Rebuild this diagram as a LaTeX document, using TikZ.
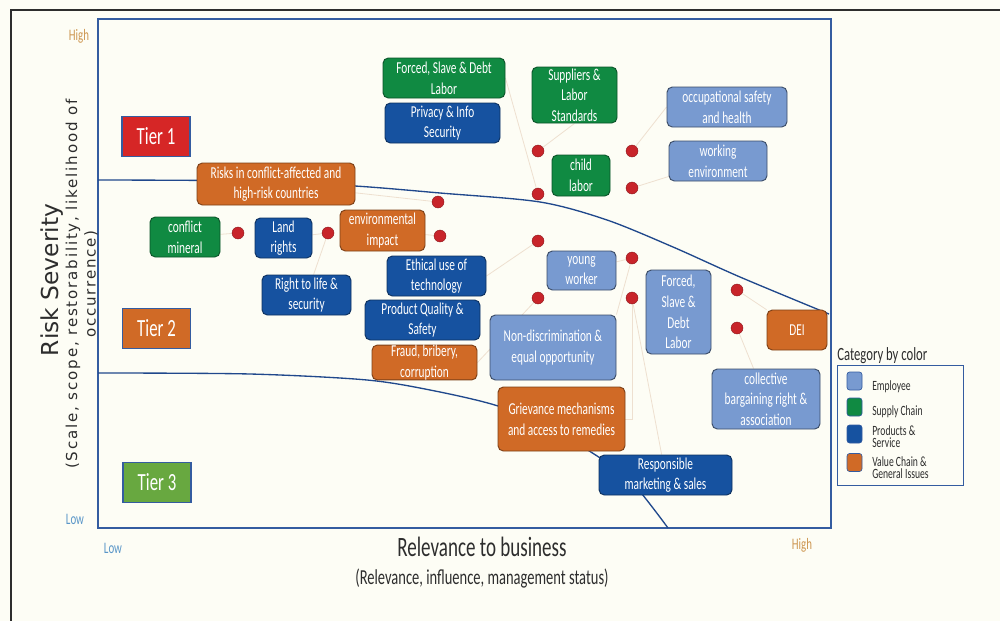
\documentclass[tikz,border=0pt]{standalone}
\usepackage{fontspec}
\setmainfont{Carlito}[FakeStretch=0.68]
\newfontfamily\sevfont{DejaVu Sans}
\newfontfamily\sevwide{DejaVu Sans}[LetterSpace=12]
\usepackage{xcolor}

\definecolor{empblue}{RGB}{120,154,208}
\definecolor{supgreen}{RGB}{16,138,66}
\definecolor{prodblue}{RGB}{22,82,160}
\definecolor{valorange}{RGB}{208,106,38}
\definecolor{tierred}{RGB}{214,38,38}
\definecolor{tiergreen}{RGB}{104,168,64}
\definecolor{dotred}{RGB}{200,36,42}
\definecolor{curveblue}{RGB}{32,72,140}
\definecolor{framecol}{RGB}{52,92,160}
\definecolor{leadcol}{RGB}{238,224,208}
\definecolor{papercol}{RGB}{253,253,245}
\definecolor{hicol}{RGB}{205,150,80}
\definecolor{locol}{RGB}{90,150,200}
\definecolor{inkcol}{RGB}{45,45,45}

\pgfdeclarelayer{paper}
\pgfdeclarelayer{back}
\pgfsetlayers{paper,back,main}

\tikzset{
  issue/.style={rounded corners=4pt, inner sep=1pt, align=center, text=white,
    font=\fontsize{12.5}{15.5}\selectfont, line width=0.7pt},
  emp/.style={issue, fill=empblue, draw=empblue!50!black},
  sup/.style={issue, fill=supgreen, draw=supgreen!60!black},
  prod/.style={issue, fill=prodblue, draw=prodblue!60!black},
  val/.style={issue, fill=valorange, draw=valorange!60!black},
  boxsz/.style 2 args={minimum width=#1*0.75pt, minimum height=#2*0.75pt},
  tier/.style={draw=framecol, line width=0.8pt, text=white, inner sep=0pt,
    font=\fontsize{18.5}{20}\selectfont, boxsz={68}{40}},
  spot/.style={circle, fill=dotred, draw=dotred!70!black, line width=0.3pt,
    inner sep=0pt, minimum size=12*0.75pt},
  leader/.style={leadcol, line width=0.6pt},
  swatch/.style={rounded corners=2pt, draw=framecol, line width=0.5pt,
    inner sep=0pt, boxsz={15}{18}},
  legtext/.style={anchor=west, align=left, text=inkcol, inner sep=0pt,
    font=\fontsize{10.6}{9.2}\selectfont}
}

\begin{document}
\begin{tikzpicture}[x=0.75pt, y=-0.75pt]
    \useasboundingbox (0,0) rectangle (1000,621);
    \begin{pgfonlayer}{paper}
      \fill[papercol] (0,0) rectangle (1000,621);
    \end{pgfonlayer}
    \draw[inkcol, line width=1.2pt] (11,621) -- (11,10) -- (1000,10);

    \draw[framecol, line width=0.9pt] (98,19) rectangle (831,528);
    \draw[curveblue, line width=1pt] plot[smooth, tension=0.5] coordinates
      {(98,180) (250,181) (355,186) (440,193) (540,202) (607,220) (673,247) (740,277) (829,314)};
    \draw[curveblue, line width=1pt] plot[smooth, tension=0.5] coordinates
      {(98,373) (250,374) (367,380) (435,391) (498,406) (550,428) (594,454) (630,480) (668,528)};

    \node[text=hicol, font=\fontsize{12}{14}\selectfont] (yhigh) at (79,36) {High};
    \node[text=locol, font=\fontsize{12}{14}\selectfont] (ylow) at (75,519) {Low};
    \node[text=locol, font=\fontsize{12}{14}\selectfont] (xlow) at (113,548) {Low};
    \node[text=hicol, font=\fontsize{12}{14}\selectfont] (xhigh) at (802,545) {High};

    \node[rotate=90, text=inkcol, font=\sevfont\fontsize{17.5}{20}\selectfont] (sevtitle) at (52,280) {Risk Severity};
    \node[rotate=90, text=inkcol, font=\sevwide\fontsize{11.3}{13}\selectfont] (sevsub) at (73,284) {(Scale, scope, restorability, likelihood of};
    \node[rotate=90, text=inkcol, font=\sevwide\fontsize{11.3}{13}\selectfont] (sevsubb) at (91,284) {occurrence)};
    \node[text=inkcol, font=\fontsize{21}{24}\selectfont] (reltitle) at (482,547) {Relevance to business};
    \node[text=inkcol, font=\fontsize{16}{18}\selectfont] (relsub) at (482,579) {(Relevance, influence, management status)};

    \node[tier, fill=tierred] (tier1) at (156,136.5) {Tier 1};
    \node[tier, fill=valorange] (tier2) at (156.5,328.5) {Tier 2};
    \node[tier, fill=tiergreen] (tier3) at (157,482.5) {Tier 3};

    \node[sup, boxsz={122}{40}] (forcedg) at (444,78) {Forced, Slave \& Debt\\Labor};
    \node[prod, boxsz={115}{40}] (privacy) at (442.5,123) {Privacy \& Info\\Security};
    \node[sup, boxsz={85}{56}, inner sep=0pt] (suppliers) at (574.5,95) {Suppliers \&\\Labor\\Standards};
    \node[emp, boxsz={120}{40}] (occup) at (727,107) {occupational safety\\and health};
    \node[emp, boxsz={98}{40}] (workenv) at (718,161) {working\\environment};
    \node[sup, boxsz={58}{41}] (child) at (581,175.5) {child\\labor};
    \node[val, boxsz={158}{42}] (risks) at (276,184) {Risks in conflict-affected and\\high-risk countries};
    \node[sup, boxsz={70}{40}] (mineral) at (185,237) {conflict\\mineral};
    \node[prod, boxsz={57}{40}] (land) at (283.5,238) {Land\\rights};
    \node[val, boxsz={85}{41}] (envimp) at (382.5,230.5) {environmental\\impact};
    \node[prod, boxsz={99}{40}] (ethical) at (436.5,276) {Ethical use of\\technology};
    \node[prod, boxsz={89}{40}] (rightlife) at (306.5,295) {Right to life \&\\security};
    \node[prod, boxsz={115}{40}] (quality) at (422.5,320) {Product Quality \&\\Safety};
    \node[val, boxsz={105}{33}, inner sep=0pt] (fraud) at (424.5,362.5) {Fraud, bribery,\\corruption};
    \node[emp, boxsz={69}{39}] (young) at (581.5,270.5) {young\\worker};
    \node[emp, boxsz={65}{84}] (forcedb) at (678.5,312) {Forced,\\Slave \&\\Debt\\Labor};
    \node[val, boxsz={60}{40}] (dei) at (797,330) {DEI};
    \node[emp, boxsz={126}{65}] (nondisc) at (553,347.5) {Non-discrimination \&\\equal opportunity};
    \node[val, boxsz={127}{64}] (grievance) at (561.5,419) {Grievance mechanisms\\and access to remedies};
    \node[emp, boxsz={108}{60}, inner sep=0pt] (collective) at (766,399) {collective\\bargaining right \&\\association};
    \node[prod, boxsz={133}{40}] (market) at (665.5,475) {Responsible\\marketing \& sales};

    \node[spot] (d1) at (238,233) {};
    \node[spot] (d2) at (328,233) {};
    \node[spot] (d3) at (438,202) {};
    \node[spot] (d4) at (440,236) {};
    \node[spot] (d5) at (538,151) {};
    \node[spot] (d6) at (538,194) {};
    \node[spot] (d7) at (632,151) {};
    \node[spot] (d8) at (632,188) {};
    \node[spot] (d9) at (538,241) {};
    \node[spot] (d10) at (538,298) {};
    \node[spot] (d11) at (632,258) {};
    \node[spot] (d12) at (632,298) {};
    \node[spot] (d13) at (737,290) {};
    \node[spot] (d14) at (737,328) {};

    \begin{pgfonlayer}{back}
      \draw[leader] (d1) -- (mineral);
      \draw[leader] (d2) -- (land);
      \draw[leader] (d2) -- (rightlife);
      \draw[leader] (d3) -- (risks);
      \draw[leader] (d4) -- (envimp);
      \draw[leader] (d5) -- (suppliers.south);
      \draw[leader] (d6) -- (forcedg.east);
      \draw[leader] (d7) -- (occup.west);
      \draw[leader] (d8) -- (workenv);
      \draw[leader] (d9) -- (ethical.east);
      \draw[leader] (d10) -- (fraud.east);
      \draw[leader] (d11) -- (young);
      \draw[leader] (d11) -- (nondisc.north east);
      \draw[leader] (d12) |- (grievance.east);
      \draw[leader] (d12) -- (market);
      \draw[leader] (d13) -- (dei);
      \draw[leader] (d14) -- (collective);
    \end{pgfonlayer}

    \node[anchor=west, inner sep=0pt, text=inkcol, font=\fontsize{14}{16}\selectfont] (legtitle) at (837,356) {Category by color};
    \draw[framecol, line width=0.6pt] (837,365) rectangle (963,485);
    \node[swatch, fill=empblue] (swemp) at (854.5,381) {};
    \node[swatch, fill=supgreen] (swsup) at (854.5,407) {};
    \node[swatch, fill=prodblue] (swprod) at (854.5,434) {};
    \node[swatch, fill=valorange] (swval) at (854.5,462.5) {};
    \node[legtext] (lgemp) at (872,387) {Employee};
    \node[legtext] (lgsup) at (872,412) {Supply Chain};
    \node[legtext] (lgprod) at (872,436.5) {Products \&\\Service};
    \node[legtext] (lgval) at (872,467.5) {Value Chain \&\\General Issues};

  \end{tikzpicture}
\end{document}
